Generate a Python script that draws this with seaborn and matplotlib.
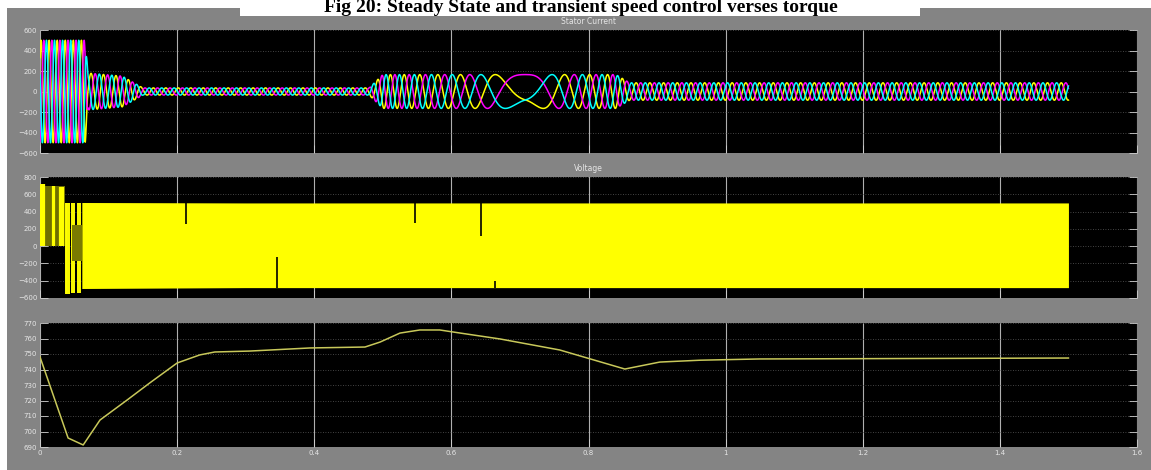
import numpy as np
import pandas as pd
import matplotlib
matplotlib.use("Agg")
import matplotlib.pyplot as plt
import seaborn as sns
from matplotlib.patches import Rectangle

# ---------------- data ----------------
caption = "Fig 20: Steady State and transient speed control verses torque"
panel_titles = ["Stator Current", "Voltage", ""]
x_ticks = [0, 0.2, 0.4, 0.6, 0.8, 1.0, 1.2, 1.4, 1.6]
x_ticklabels = ["0", "0.2", "0.4", "0.6", "0.8", "1", "1.2", "1.4", "1.6"]
cur_yticks = [-600, -400, -200, 0, 200, 400, 600]
volt_yticks = [-600, -400, -200, 0, 200, 400, 600, 800]
speed_yticks = [690, 700, 710, 720, 730, 740, 750, 760, 770]

# stator current: envelope amplitude and electrical frequency key-frames
cur_env_t = [0.0, 0.066, 0.070, 0.12, 0.15, 0.48, 0.50, 0.84, 0.86, 1.50]
cur_env_amp = [500, 500, 180, 150, 35, 35, 165, 165, 85, 85]
cur_freq_t = [0.0, 0.066, 0.070, 0.50, 0.708, 0.85, 1.50]
cur_freq_hz = [85, 85, 55, 55, 2, 50, 50]
cur_peak_time = 0.708          # magenta phase sits at its peak here
phase_names = ["a", "b", "c"]
phase_colors = ["#ffff00", "#ff00ff", "#00ffff"]

# voltage: PWM band envelope, start-up bars and notches
volt_band_t = [0.061, 0.30, 0.70, 1.10, 1.50]
volt_band_hi = [505, 500, 500, 500, 500]
volt_band_lo = [-490, -480, -480, -480, -480]
volt_start_block_t = [0.0, 0.036]
volt_start_block_hi = [700, 700]
volt_start_block_lo = [0, 0]
volt_start_bars_t = [0.001, 0.003, 0.006, 0.019, 0.021, 0.029, 0.032, 0.034]
volt_start_bars_hi = [720, 720, 720, 700, 700, 690, 690, 690]
volt_mid_block_t = [0.046, 0.061]
volt_mid_block_hi = [250, 250]
volt_mid_block_lo = [-170, -170]
volt_mid_bars_t = [0.038, 0.040, 0.042, 0.047, 0.050, 0.055, 0.058]
volt_mid_bars_hi = [500, 500, 500, 500, 500, 500, 500]
volt_mid_bars_lo = [-550, -550, -550, -540, -540, -540, -540]
notch_t = [0.213, 0.346, 0.547, 0.643, 0.664]
notch_from = [500, -480, 500, 500, -480]
notch_to = [260, -125, 265, 115, -400]

# speed
speed_t = [0.0, 0.041, 0.063, 0.0875, 0.127, 0.160, 0.200, 0.233, 0.255, 0.306,
           0.394, 0.474, 0.496, 0.525, 0.554, 0.583, 0.613, 0.671, 0.758, 0.853,
           0.904, 0.963, 1.05, 1.20, 1.35, 1.50]
speed_val = [748.1, 695.8, 691.3, 707.4, 720.3, 731.3, 744.2, 749.4, 751.3, 751.9,
             753.9, 754.5, 757.7, 763.5, 765.5, 765.5, 763.5, 759.7, 752.6, 740.3,
             744.8, 746.0, 746.8, 747.0, 747.2, 747.4]

# ---------------- build figure ----------------
W, H = 1151, 470
fig = plt.figure(figsize=(W / 100, H / 100), dpi=100, facecolor="white")
GRAY = "#848484"
fig.patches.append(Rectangle((7 / W, 0), 1 - 7 / W, 1 - 8 / H, transform=fig.transFigure,
                             facecolor=GRAY, edgecolor="none", zorder=-10))
fig.patches.append(Rectangle((240 / W, 1 - 16 / H), 680 / W, 16 / H, transform=fig.transFigure,
                             facecolor="white", edgecolor="none", zorder=-9))
fig.text(581 / W, 1 - 11.5 / H, caption, ha="center", va="baseline", fontsize=14,
         family="Liberation Serif", fontweight="bold", color="black")

def px_axes(top, bottom):
    return fig.add_axes([40 / W, 1 - bottom / H, 1097 / W, (bottom - top) / H])

ax1 = px_axes(30, 153)
ax2 = px_axes(177, 298)
ax3 = px_axes(323, 447)
axes = [ax1, ax2, ax3]

TXT = "#e6e6e6"
for ax, title in zip(axes, panel_titles):
    ax.set_facecolor("black")
    for s in ax.spines.values():
        s.set_visible(False)
    ax.set_xlim(0, 1.6)
    ax.set_xticks(x_ticks)
    ax.tick_params(axis="both", direction="in", colors="#d0d0d0", labelcolor=TXT,
                   labelsize=5, length=6, width=0.6, right=True, top=False, pad=2)
    ax.grid(axis="x", color="#cfcfcf", linewidth=0.8, linestyle="-", alpha=0.85)
    ax.grid(axis="y", color="#5a5a5a", linewidth=0.6, linestyle=(0, (1, 2)))
    ax.set_axisbelow(True)
    if title:
        ax.set_title(title, fontsize=5.5, color=TXT, pad=4)

# ---- stator current ----
t = np.linspace(0, 1.5, 15001)
amp = np.interp(t, cur_env_t, cur_env_amp)
freq = np.interp(t, cur_freq_t, cur_freq_hz)
phi = 2 * np.pi * np.concatenate([[0], np.cumsum((freq[1:] + freq[:-1]) / 2 * np.diff(t))])
phi0 = 2 * np.pi / 3 - np.interp(cur_peak_time, t, phi)
shifts = [0, -2 * np.pi / 3, 2 * np.pi / 3]
frames = []
for name, sh in zip(phase_names, shifts):
    frames.append(pd.DataFrame({"t": t, "i": amp * np.cos(phi + phi0 + sh), "phase": name}))
df_cur = pd.concat(frames, ignore_index=True)
sns.lineplot(data=df_cur, x="t", y="i", hue="phase", palette=phase_colors, ax=ax1,
             legend=False, estimator=None, sort=False, linewidth=1.1)
ax1.set_ylim(-600, 600)
ax1.set_yticks(cur_yticks)
ax1.set_xticklabels([])
ax1.set_xlabel("")
ax1.set_ylabel("")

# ---- voltage ----
ax2.fill_between(volt_start_block_t, volt_start_block_lo, volt_start_block_hi,
                 color="#6e6e00", linewidth=0, zorder=2)
ax2.vlines(volt_start_bars_t, 0, volt_start_bars_hi, color="#ffff00", linewidth=1.6, zorder=3)
ax2.vlines(volt_mid_bars_t, volt_mid_bars_lo, volt_mid_bars_hi, color="#ffff00", linewidth=1.4, zorder=3)
ax2.fill_between(volt_mid_block_t, volt_mid_block_lo, volt_mid_block_hi,
                 color="#7a7a00", linewidth=0, zorder=4)
ax2.fill_between(volt_band_t, volt_band_lo, volt_band_hi, color="#ffff00", linewidth=0, zorder=3)
ax2.vlines(notch_t, notch_from, notch_to, color="black", linewidth=1.2, zorder=5)
ax2.set_ylim(-600, 800)
ax2.set_yticks(volt_yticks)
ax2.set_xticklabels([])

# ---- speed ----
df_sp = pd.DataFrame({"t": speed_t, "speed": speed_val})
sns.lineplot(data=df_sp, x="t", y="speed", ax=ax3, color="#c8c85a", linewidth=1.1,
             estimator=None, sort=False)
ax3.set_ylim(690, 770)
ax3.set_yticks(speed_yticks)
ax3.set_xticklabels(x_ticklabels)
ax3.set_xlabel("")
ax3.set_ylabel("")

fig.savefig("out.png", dpi=100, facecolor=fig.get_facecolor())
